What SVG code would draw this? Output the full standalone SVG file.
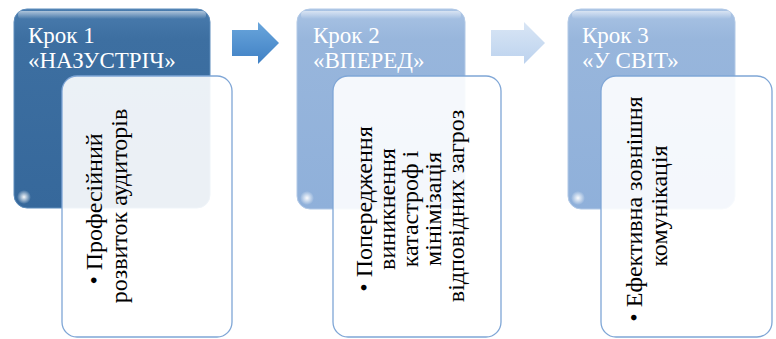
<svg xmlns="http://www.w3.org/2000/svg" width="776" height="339" viewBox="0 0 776 339">
<style>
.title{font-family:"Liberation Serif","Times New Roman",serif;font-size:23px;fill:#ffffff}
.body{font-family:"Liberation Serif","Times New Roman",serif;font-size:24px;fill:#000000}
.inner{fill:#ffffff;fill-opacity:0.9;stroke:#7fa6d6;stroke-width:1.3}
</style>
<defs>
<linearGradient id="dark" x1="0" y1="0" x2="0" y2="1">
<stop offset="0" stop-color="#4a7cae"/>
<stop offset="0.15" stop-color="#3d6fa1"/>
<stop offset="1" stop-color="#36689b"/>
</linearGradient>
<linearGradient id="light" x1="0" y1="0" x2="0" y2="1">
<stop offset="0" stop-color="#a9c3e4"/>
<stop offset="0.15" stop-color="#98b6dc"/>
<stop offset="1" stop-color="#8fb0da"/>
</linearGradient>
<linearGradient id="gloss" x1="0" y1="0" x2="0" y2="1">
<stop offset="0" stop-color="#ffffff" stop-opacity="0.55"/>
<stop offset="1" stop-color="#ffffff" stop-opacity="0"/>
</linearGradient>
<linearGradient id="arr1" x1="0" y1="0" x2="0" y2="1">
<stop offset="0" stop-color="#6aa6dc"/>
<stop offset="1" stop-color="#3f80c4"/>
</linearGradient>
<linearGradient id="arr2" x1="0" y1="0" x2="0" y2="1">
<stop offset="0" stop-color="#d9e6f5"/>
<stop offset="1" stop-color="#bcd2ee"/>
</linearGradient>
<radialGradient id="spot">
<stop offset="0" stop-color="#ffffff" stop-opacity="0.95"/>
<stop offset="1" stop-color="#ffffff" stop-opacity="0"/>
</radialGradient>
</defs>

<g id="connectors">
<polygon points="232,30 258,30 258,22 279,43 258,64 258,56 232,56" fill="url(#arr1)"/>
<polygon points="491,30 524,30 524,22 545,43 524,64 524,56 491,56" fill="url(#arr2)"/>
</g>

<g id="step1">
<rect x="14" y="9" width="196" height="199" rx="13" fill="url(#dark)" stroke="#5d8cbb" stroke-width="1"/>
<rect x="18" y="11" width="188" height="8" rx="4" fill="url(#gloss)"/>
<circle cx="24" cy="197" r="7" fill="url(#spot)"/>
<text class="title" x="28" y="43">Крок 1</text>
<text class="title" x="28" y="68">«НАЗУСТРІЧ»</text>
</g>
<g id="step1-detail">
<rect class="inner" x="62" y="76" width="170" height="261" rx="15"/>
<text class="body" text-anchor="middle" transform="translate(102,206) rotate(-90)">
<tspan x="0" y="0">• Професійний</tspan>
<tspan x="0" y="25">розвиток аудиторів</tspan>
</text>
</g>

<g id="step2">
<rect x="297" y="9" width="168" height="200" rx="13" fill="url(#light)" stroke="#b2c9e6" stroke-width="1"/>
<rect x="301" y="11" width="160" height="8" rx="4" fill="url(#gloss)"/>
<circle cx="307" cy="198" r="7" fill="url(#spot)"/>
<text class="title" x="313" y="43">Крок 2</text>
<text class="title" x="313" y="68">«ВПЕРЕД»</text>
</g>
<g id="step2-detail">
<rect class="inner" x="333" y="76" width="168" height="261" rx="15"/>
<text class="body" text-anchor="middle" transform="translate(372,206) rotate(-90)">
<tspan x="0" y="0">• Попередження</tspan>
<tspan x="0" y="23">виникнення</tspan>
<tspan x="0" y="46">катастроф і</tspan>
<tspan x="0" y="69">мінімізація</tspan>
<tspan x="0" y="92">відповідних загроз</tspan>
</text>
</g>

<g id="step3">
<rect x="568" y="9" width="167" height="200" rx="13" fill="url(#light)" stroke="#b2c9e6" stroke-width="1"/>
<rect x="572" y="11" width="159" height="8" rx="4" fill="url(#gloss)"/>
<circle cx="578" cy="198" r="7" fill="url(#spot)"/>
<text class="title" x="582" y="43">Крок 3</text>
<text class="title" x="582" y="68">«У СВІТ»</text>
</g>
<g id="step3-detail">
<rect class="inner" x="601" y="76" width="171" height="261" rx="15"/>
<text class="body" text-anchor="middle" transform="translate(642,206) rotate(-90)">
<tspan x="0" y="0">• Ефективна зовнішня</tspan>
<tspan x="0" y="25">комунікація</tspan>
</text>
</g>
</svg>
